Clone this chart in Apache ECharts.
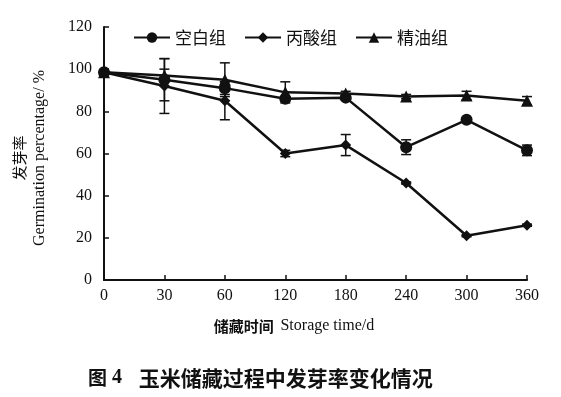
<!DOCTYPE html>
<html>
<head>
<meta charset="utf-8">
<script src="https://cdn.jsdelivr.net/npm/echarts@6/dist/echarts.min.js"></script>
<style>
    html, body { margin: 0; padding: 0; background: #fff; }
    #chart { width: 561px; height: 397px; }
</style>
</head>
<body>
<div id="chart"></div>
<script>
    // 储藏时间（天）
    var days = ['0', '30', '60', '120', '180', '240', '300', '360'];
    var yTicks = { min: 0, max: 120, interval: 20 };

    // 发芽率 / %
    var blank = [98.5, 95, 91, 86, 86.5, 63, 76, 61.5];
    var blankErr = [0, 10, 3, 1, 1, 3.5, 1, 2.5];
    var propionic = [98.5, 92, 85, 60, 64, 46, 21, 26];
    var propionicErr = [0, 13, 9, 1.5, 5, 0.5, 0.5, 0.5];
    var oil = [98.5, 97, 95, 89, 88.5, 87, 87.5, 85];
    var oilErr = [0, 3, 8, 5, 1, 1, 2, 2];

    var serif = '"Liberation Serif", "Times New Roman", serif';
    var cjk = '"Noto Sans CJK SC", sans-serif';
    var ink = '#111';

    function errData(vals, errs) {
        var out = [];
        for (var i = 0; i < vals.length; i++) {
            if (errs[i] > 0) out.push([i, vals[i] - errs[i], vals[i] + errs[i]]);
        }
        return out;
    }

    // 误差线
    function renderErrorBar(params, api) {
        var x = api.value(0);
        var lo = api.coord([x, api.value(1)]);
        var hi = api.coord([x, api.value(2)]);
        var w = 5;
        var st = { stroke: ink, lineWidth: 1.5 };
        return {
            type: 'group',
            children: [
                { type: 'line', shape: { x1: lo[0], y1: lo[1], x2: hi[0], y2: hi[1] }, style: st },
                { type: 'line', shape: { x1: lo[0] - w, y1: lo[1], x2: lo[0] + w, y2: lo[1] }, style: st },
                { type: 'line', shape: { x1: hi[0] - w, y1: hi[1], x2: hi[0] + w, y2: hi[1] }, style: st }
            ]
        };
    }

    function lineSeries(name, data, symbol, size) {
        return {
            name: name,
            type: 'line',
            data: data,
            symbol: symbol,
            symbolSize: size,
            showAllSymbol: true,
            lineStyle: { color: ink, width: 2.5 },
            itemStyle: { color: ink },
            z: 3
        };
    }

    function barSeries(name, vals, errs) {
        return {
            name: name,
            type: 'custom',
            renderItem: renderErrorBar,
            data: errData(vals, errs),
            encode: { x: 0, y: [1, 2] },
            z: 2,
            silent: true
        };
    }

    var myChart = echarts.init(document.getElementById('chart'));
    myChart.setOption({
        animation: false,
        backgroundColor: '#fff',
        grid: {
            left: 104,
            right: 34,
            top: 27,
            bottom: 117,
            containLabel: false,
            outerBoundsMode: 'none'
        },
        legend: {
            data: ['空白组', '丙酸组', '精油组'],
            left: 128,
            top: 24,
            itemWidth: 36,
            itemHeight: 13,
            itemGap: 18,
            textStyle: { color: ink, fontFamily: cjk, fontSize: 17 }
        },
        xAxis: {
            type: 'category',
            data: days,
            boundaryGap: false,
            axisLine: { lineStyle: { color: ink, width: 2 } },
            axisTick: { inside: true, length: 5, alignWithLabel: true, lineStyle: { color: ink, width: 1.5 } },
            axisLabel: { color: ink, fontFamily: serif, fontSize: 16, margin: 8, interval: 0 },
            splitLine: { show: false }
        },
        yAxis: {
            type: 'value',
            min: yTicks.min,
            max: yTicks.max,
            interval: yTicks.interval,
            axisLine: { show: true, lineStyle: { color: ink, width: 2 } },
            axisTick: { show: true, inside: true, length: 5, lineStyle: { color: ink, width: 1.5 } },
            axisLabel: { color: ink, fontFamily: serif, fontSize: 16, margin: 12 },
            splitLine: { show: false }
        },
        graphic: [
            {
                type: 'text', x: 19, y: 158, rotation: Math.PI / 2,
                style: { text: '发芽率', fill: ink, font: '15px ' + cjk, align: 'center', verticalAlign: 'middle' }
            },
            {
                type: 'text', x: 40, y: 158, rotation: Math.PI / 2,
                style: { text: 'Germination percentage/ %', fill: ink, font: '16px ' + serif, align: 'center', verticalAlign: 'middle' }
            },
            {
                type: 'text', x: 294, y: 326,
                style: {
                    text: '{a|储藏时间}  {b|Storage time/d}',
                    align: 'center', verticalAlign: 'middle',
                    rich: {
                        a: { fill: ink, font: 'bold 15px ' + cjk },
                        b: { fill: ink, font: '16px ' + serif }
                    }
                }
            },
            {
                type: 'text', x: 88, y: 378,
                style: {
                    text: '{a|图}{n| 4}     {b|玉米储藏过程中发芽率变化情况}',
                    align: 'left', verticalAlign: 'middle',
                    rich: {
                        a: { fill: ink, font: 'bold 19px ' + cjk },
                        n: { fill: ink, font: 'bold 20px ' + serif },
                        b: { fill: ink, font: 'bold 21px ' + cjk }
                    }
                }
            }
        ],
        series: [
            barSeries('空白组误差', blank, blankErr),
            barSeries('丙酸组误差', propionic, propionicErr),
            barSeries('精油组误差', oil, oilErr),
            lineSeries('空白组', blank, 'circle', 12),
            lineSeries('丙酸组', propionic, 'diamond', 11),
            lineSeries('精油组', oil, 'triangle', 12)
        ]
    });
</script>
</body>
</html>
